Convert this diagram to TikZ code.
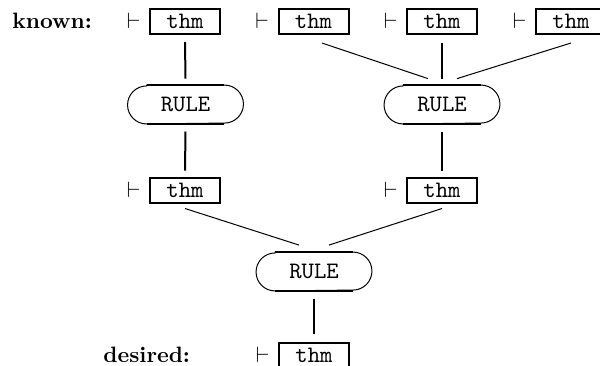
\documentclass[tikz,border=0pt]{standalone}
\begin{document}
\begin{tikzpicture}[x=0.45pt,y=-0.45pt,
  thmbox/.style={draw,line width=0.9pt,minimum width=31.5pt,minimum height=11.25pt,inner sep=0pt,font=\ttfamily\fontsize{10.6}{12}\selectfont},
  rulebox/.style={minimum width=51.75pt,minimum height=17.1pt,inner sep=0pt,font=\ttfamily\fontsize{10.6}{12}\selectfont},
  thinlink/.style={line width=0.45pt},
  thicklink/.style={line width=0.9pt},
  lbl/.style={font=\bfseries,anchor=base west,inner sep=0pt},
  turnstile/.style={anchor=base east,inner sep=0pt}]
\useasboundingbox (0,0) rectangle (600,365);
% theorem boxes
\node[thmbox] (b1) at (185,21.5) {thm};
\node[thmbox] (b2) at (313.5,21.5) {thm};
\node[thmbox] (b3) at (442,21.5) {thm};
\node[thmbox] (b4) at (571,21.5) {thm};
\node[thmbox] (b5) at (185,190) {thm};
\node[thmbox] (b6) at (442,190) {thm};
\node[thmbox] (b7) at (314,355) {thm};
% turnstiles
\foreach \b in {b1,b2,b3,b4,b5,b6,b7}
  \node[turnstile] (t\b) at ([xshift=-3.6pt]\b.base west) {$\vdash$};
% labels
\node[lbl] (known) at (12,0 |- b1.base) {known:};
\node[lbl] (desired) at (103,0 |- b7.base) {desired:};
% rules
\node[rulebox] (r1) at (185.5,104.5) {RULE};
\node[rulebox] (r2) at (442,104.5) {RULE};
\node[rulebox] (r3) at (314,271.5) {RULE};
\foreach \r in {r1,r2,r3} {
  \draw[line width=0.45pt] ([xshift=8.55pt]\r.north west) -- ([xshift=-8.55pt]\r.north east)
    arc[start angle=90,end angle=-90,radius=8.55pt] -- ([xshift=8.55pt]\r.south west)
    arc[start angle=270,end angle=90,radius=8.55pt] -- cycle;
  \draw[line width=0.9pt] ([xshift=8.55pt]\r.north west) -- ([xshift=-8.55pt]\r.north east)
    ([xshift=8.55pt]\r.south west) -- ([xshift=-8.55pt]\r.south east);
}
% connectors
\draw[thicklink] ([yshift=-3.15pt]b1.south) -- ([yshift=2.9pt]r1.north);
\draw[thinlink] ([shift={(3.8pt,-3.6pt)}]b2.south) -- ([shift={(-6.3pt,2.9pt)}]r2.north);
\draw[thicklink] ([yshift=-3.6pt]b3.south) -- ([yshift=2.9pt]r2.north);
\draw[thinlink] ([yshift=-3.6pt]b4.south) -- ([shift={(6.75pt,2.9pt)}]r2.north);
\draw[thicklink] ([yshift=-3.4pt]r1.south) -- ([yshift=2.7pt]b5.north);
\draw[thicklink] ([yshift=-3.4pt]r2.south) -- ([yshift=2.7pt]b6.north);
\draw[thinlink] ([yshift=-2.25pt]b5.south) -- ([shift={(-6.75pt,3.15pt)}]r3.north);
\draw[thinlink] ([yshift=-2.25pt]b6.south) -- ([shift={(6.75pt,3.15pt)}]r3.north);
\draw[thicklink] ([yshift=-3.4pt]r3.south) -- ([yshift=3.6pt]b7.north);
\end{tikzpicture}
\end{document}
